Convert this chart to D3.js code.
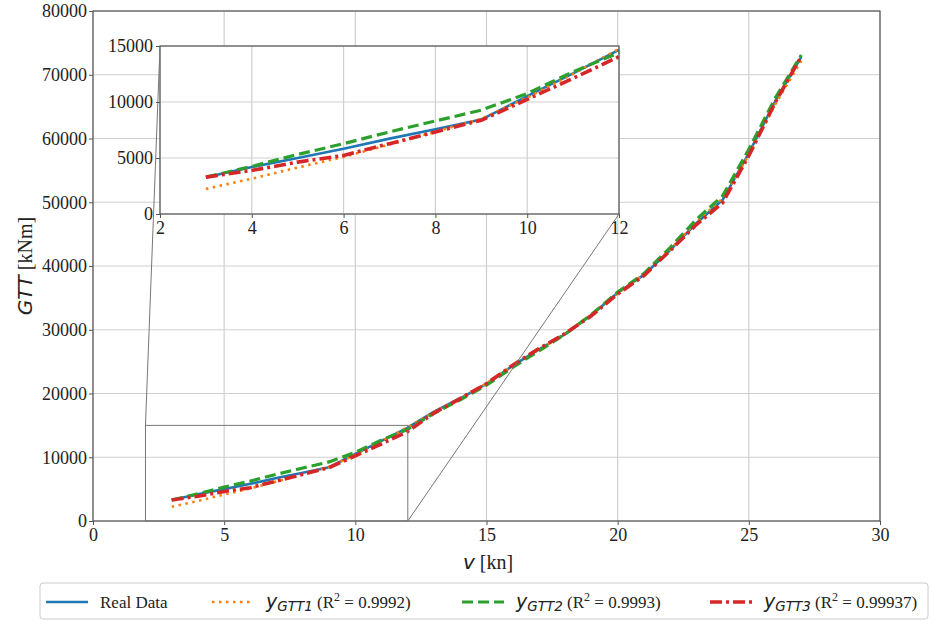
<!DOCTYPE html>
<html lang="en">
<head>
<meta charset="utf-8">
<title>GTT vs speed</title>
<script src="https://d3js.org/d3.v7.min.js"></script>
<style>
  body { margin: 0; background: #fff; }
  svg text { font-family: "Liberation Serif", "DejaVu Serif", serif; fill: #222; }
  svg text .math, svg text.math { font-family: "DejaVu Sans", sans-serif; font-style: italic; }
</style>
</head>
<body>
<div id="chart"></div>
<script>
// speed [kn]
var speeds = [3, 4, 5, 6, 7, 8, 9, 10, 11, 12, 13, 14, 15, 16, 17, 18, 19, 20, 21, 22, 23, 24, 25, 26, 27];
var realData = [3290, 4190, 5000, 5830, 6730, 7570, 8430, 10520, 12560, 14650, 17150, 19250, 21500, 24360, 26930, 29330, 32300, 35800, 38600, 42500, 46700, 50350, 57700, 65800, 72800];
var fit1 = [2240, 3150, 4150, 5100, 6200, 7350, 8500, 10400, 12500, 14750, 17100, 19300, 21600, 24300, 26900, 29400, 32400, 35700, 38700, 42600, 46900, 50600, 57400, 65300, 72200];
var fit2 = [3290, 4250, 5320, 6280, 7330, 8310, 9270, 10760, 12700, 14400, 16900, 19000, 21300, 24100, 26700, 29300, 32400, 35900, 38800, 42900, 47300, 51000, 58300, 66300, 73100];
var fit3 = [3290, 3890, 4630, 5230, 6280, 7330, 8370, 10230, 12110, 14050, 16950, 19200, 21550, 24450, 27050, 29400, 32200, 35600, 38500, 42400, 46500, 49900, 57300, 65600, 72900];

var xTicks = [0, 5, 10, 15, 20, 25, 30];
var yTicks = [0, 10000, 20000, 30000, 40000, 50000, 60000, 70000, 80000];
var insetXTicks = [2, 4, 6, 8, 10, 12];
var insetYTicks = [0, 5000, 10000, 15000];

var series = [
  { name: "Real Data", values: realData, color: "#1f77b4", width: 2.6, dash: null },
  { name: "GTT1", r2: "0.9992", values: fit1, color: "#ff7f0e", width: 2.6, dash: "2.5,4.5" },
  { name: "GTT2", r2: "0.9993", values: fit2, color: "#2ca02c", width: 3.2, dash: "11,5" },
  { name: "GTT3", r2: "0.99937", values: fit3, color: "#d62728", width: 3.6, dash: "12,4,3,4" }
];

var W = 933, H = 621;
var svg = d3.select("#chart").append("svg").attr("width", W).attr("height", H);

var x = d3.scaleLinear().domain([0, 30]).range([93, 880]);
var y = d3.scaleLinear().domain([0, 80000]).range([521, 11]);

// grid
var grid = svg.append("g");
grid.selectAll(".gx").data(xTicks).enter().append("line")
  .attr("x1", d => x(d)).attr("x2", d => x(d)).attr("y1", y(0)).attr("y2", y(80000))
  .attr("stroke", "#cfcfcf").attr("stroke-width", 1.2);
grid.selectAll(".gy").data(yTicks).enter().append("line")
  .attr("y1", d => y(d)).attr("y2", d => y(d)).attr("x1", x(0)).attr("x2", x(30))
  .attr("stroke", "#cfcfcf").attr("stroke-width", 1.2);

function drawLines(g, xs, ys, cut) {
  series.forEach(function(s) {
    var pts = speeds.map((v, i) => [v, s.values[i]]).filter(p => !cut || p[0] <= cut);
    g.append("path")
      .datum(pts)
      .attr("fill", "none")
      .attr("stroke", s.color)
      .attr("stroke-width", s.width)
      .attr("stroke-dasharray", s.dash)
      .attr("d", d3.line().x(p => xs(p[0])).y(p => ys(p[1])));
  });
}
drawLines(svg.append("g"), x, y);

function styleAxis(a) {
  a.select(".domain").remove();
  a.selectAll("line").attr("stroke", "#555");
  a.selectAll("text")
    .style("font-family", "'Liberation Serif', serif")
    .style("font-size", "18px")
    .style("fill", "#222");
}

// axes
var xAxis = svg.append("g").attr("transform", "translate(0," + y(0) + ")")
  .call(d3.axisBottom(x).tickValues(xTicks).tickSize(4).tickPadding(3));
var yAxis = svg.append("g").attr("transform", "translate(" + x(0) + ",0)")
  .call(d3.axisLeft(y).tickValues(yTicks).tickSize(4).tickPadding(2).tickFormat(d3.format("d")));
styleAxis(xAxis); styleAxis(yAxis);
svg.append("rect").attr("x", x(0)).attr("y", y(80000))
  .attr("width", x(30) - x(0)).attr("height", y(0) - y(80000))
  .attr("fill", "none").attr("stroke", "#555").attr("stroke-width", 1.2);

// axis labels
var xl = svg.append("text").attr("x", 488).attr("y", 569).attr("text-anchor", "middle").style("font-size", "20px");
xl.append("tspan").attr("class", "math").text("v");
xl.append("tspan").text(" [kn]");
var yl = svg.append("text").attr("transform", "translate(32,266) rotate(-90)").attr("text-anchor", "middle").style("font-size", "20px");
yl.append("tspan").attr("class", "math").text("GTT");
yl.append("tspan").text(" [kNm]");

// zoom indicator
var zoomG = svg.append("g").attr("stroke", "#777").attr("stroke-width", 1).attr("fill", "none");
zoomG.append("rect").attr("x", x(2)).attr("y", y(15000))
  .attr("width", x(12) - x(2)).attr("height", y(0) - y(15000));

// inset
var ix = d3.scaleLinear().domain([2, 12]).range([160, 619]);
var iy = d3.scaleLinear().domain([0, 15000]).range([214, 46]);
zoomG.append("line").attr("x1", x(2)).attr("y1", y(15000)).attr("x2", ix(2)).attr("y2", iy(15000));
zoomG.append("line").attr("x1", x(12)).attr("y1", y(0)).attr("x2", ix(12)).attr("y2", iy(0));

var inset = svg.append("g");
inset.append("rect").attr("x", ix(2)).attr("y", iy(15000))
  .attr("width", ix(12) - ix(2)).attr("height", iy(0) - iy(15000)).attr("fill", "#fff");
inset.selectAll(".igx").data(insetXTicks).enter().append("line")
  .attr("x1", d => ix(d)).attr("x2", d => ix(d)).attr("y1", iy(0)).attr("y2", iy(15000))
  .attr("stroke", "#cfcfcf").attr("stroke-width", 1.2);
inset.selectAll(".igy").data(insetYTicks).enter().append("line")
  .attr("y1", d => iy(d)).attr("y2", d => iy(d)).attr("x1", ix(2)).attr("x2", ix(12))
  .attr("stroke", "#cfcfcf").attr("stroke-width", 1.2);
drawLines(inset.append("g"), ix, iy, 12);
var ixAxis = inset.append("g").attr("transform", "translate(0," + iy(0) + ")")
  .call(d3.axisBottom(ix).tickValues(insetXTicks).tickSize(4).tickPadding(3));
var iyAxis = inset.append("g").attr("transform", "translate(" + ix(2) + ",0)")
  .call(d3.axisLeft(iy).tickValues(insetYTicks).tickSize(4).tickPadding(3).tickFormat(d3.format("d")));
styleAxis(ixAxis); styleAxis(iyAxis);
inset.append("rect").attr("x", ix(2)).attr("y", iy(15000))
  .attr("width", ix(12) - ix(2)).attr("height", iy(0) - iy(15000))
  .attr("fill", "none").attr("stroke", "#555").attr("stroke-width", 1.2);

// legend
var leg = svg.append("g");
leg.append("rect").attr("x", 40).attr("y", 583).attr("width", 888).attr("height", 36)
  .attr("rx", 3).attr("fill", "#fff").attr("stroke", "#ccc");
var legX = [46, 212, 462, 710];
series.forEach(function(s, i) {
  var lx = legX[i], ly = 602;
  leg.append("line").attr("x1", lx).attr("x2", lx + 42).attr("y1", ly).attr("y2", ly)
    .attr("stroke", s.color).attr("stroke-width", s.width).attr("stroke-dasharray", s.dash);
  var t = leg.append("text").attr("x", lx + 54).attr("y", ly + 6).style("font-size", "17px");
  if (i === 0) {
    t.text(s.name);
  } else {
    t.append("tspan").attr("class", "math").style("font-size", "19px").text("y");
    t.append("tspan").attr("class", "math").style("font-size", "13.5px").attr("dy", 3).text(s.name);
    t.append("tspan").attr("dy", -3).text(" (R");
    t.append("tspan").style("font-size", "12px").attr("dy", -7).text("2");
    t.append("tspan").attr("dy", 7).text(" = " + s.r2 + ")");
  }
});
</script>
</body>
</html>
